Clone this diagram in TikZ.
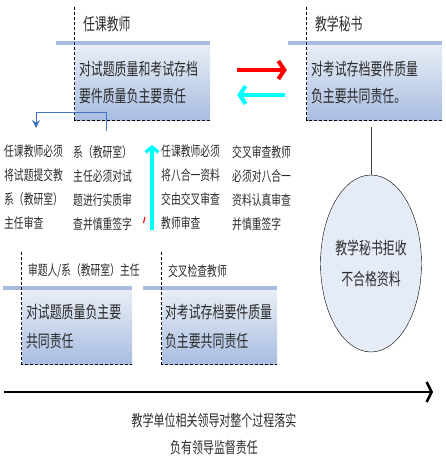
\documentclass[tikz,border=0pt]{standalone}
\usepackage{fontspec}
\setmainfont[FakeStretch=0.7]{Noto Sans CJK SC}
\usetikzlibrary{shapes.geometric,arrows.meta}
\definecolor{boxtop}{HTML}{E9EEF6}
\definecolor{boxbottom}{HTML}{A8BDE1}
\definecolor{bandblue}{HTML}{A9BCDF}
\definecolor{linkblue}{HTML}{4472C4}
\definecolor{ovalfill}{HTML}{E6ECF7}
\definecolor{inkgrey}{HTML}{2B2B2B}
\definecolor{brightcyan}{HTML}{00FFFF}
\definecolor{brightred}{HTML}{FF0000}

\begin{document}
\begin{tikzpicture}[x=1pt, y=-1pt,
		dutybox/.style={top color=boxtop, bottom color=boxbottom, inner xsep=4pt, inner ysep=0pt, align=left, text=inkgrey},
		header/.style={inner sep=0pt, anchor=west, text=inkgrey},
		note/.style={inner sep=0pt, anchor=north west, align=left, text=inkgrey, font=\fontsize{14}{24}\selectfont},
		edge/.style={dash pattern=on 3pt off 2pt, line width=0.8pt},
		band/.style={bandblue, line width=4pt},
		bothways/.style={line width=4pt, -{Straight Barb[length=6pt, width=18pt]}},
		climb/.style={brightcyan, line width=3.5pt, -{Straight Barb[length=5pt, width=13pt]}}]
		\useasboundingbox (0,0) rectangle (445,471);

		% the four duty boxes
		\draw (142.5,82.5) node[dutybox, text width=127pt, minimum height=75pt, font=\fontsize{17}{27}\selectfont] (TeacherBox) {对试题质量和考试存档\\要件质量负主要责任};
		\draw (374.5,82.5) node[dutybox, text width=127pt, minimum height=75pt, font=\fontsize{17}{27}\selectfont] (SecretaryBox) {对考试存档要件质量\\负主要共同责任。};
		\draw (77,327) node[dutybox, text width=102pt, minimum height=74pt, font=\fontsize{17}{29}\selectfont] (ReviewerBox) {对试题质量负主要\\共同责任};
		\draw (219.5,327) node[dutybox, inner xsep=3pt, text width=109pt, minimum height=74pt, font=\fontsize{17}{29}\selectfont] (CheckerBox) {对考试存档要件质量\\负主要共同责任};
		\foreach \b in {TeacherBox, SecretaryBox, ReviewerBox, CheckerBox} {
			\draw[band] ([xshift=-19pt, yshift=2pt]\b.north west) -- ([yshift=2pt]\b.north east);
			\draw[edge] ([yshift=37.5pt]\b.north west) -- (\b.south west) -- (\b.south east);
		}

		% headers
		\draw ([xshift=8pt, yshift=21pt]TeacherBox.north west) node[header, font=\fontsize{17}{20}\selectfont] (TeacherHead) {任课教师};
		\draw ([xshift=8pt, yshift=21pt]SecretaryBox.north west) node[header, font=\fontsize{17}{20}\selectfont] (SecretaryHead) {教学秘书};
		\draw ([xshift=6pt, yshift=19pt]ReviewerBox.north west) node[header, font=\fontsize{14}{16}\selectfont] (ReviewerHead) {审题人/系（教研室）主任};
		\draw ([xshift=6pt, yshift=19pt]CheckerBox.north west) node[header, font=\fontsize{14}{16}\selectfont] (CheckerHead) {交叉检查教师};

		% notes
		\draw (4,145) node[note] (SubmitNote) {任课教师必须\\将试题提交教\\系（教研室）\\主任审查};
		\draw (73,145) node[note] (SignNote) {系（教研室）\\主任必须对试\\题进行实质审\\查并慎重签字};
		\draw (161,145) node[note] (HandNote) {任课教师必须\\将八合一资料\\交由交叉审查\\教师审查};
		\draw (232,145) node[note] (CrossNote) {交叉审查教师\\必须对八合一\\资料认真审查\\并慎重签字};

		\draw (371,263.5) node[ellipse, draw, fill=ovalfill, minimum width=80pt, minimum height=177pt, inner sep=0pt, align=center, text=inkgrey, font=\fontsize{17}{31}\selectfont] (Reject) {教学秘书拒收\\不合格资料};

		% arrows
		\draw[bothways, brightred, shorten <=27pt, shorten >=20pt] ([yshift=12.5pt]TeacherBox.east) -- ([yshift=12.5pt]SecretaryBox.west);
		\draw[bothways, brightcyan, shorten <=22pt, shorten >=27pt] ([yshift=-12.5pt]SecretaryBox.west) -- ([yshift=-12.5pt]TeacherBox.east);
		\draw[linkblue, line width=1pt, -{Stealth[length=8pt, width=8pt]}] ([xshift=3.5pt, yshift=14pt]SignNote.north) -- ++(0,-19) -| ([xshift=2.5pt, yshift=17pt]SubmitNote.north);
		\draw[climb] ([xshift=-9pt]HandNote.south west) -- ([xshift=-9pt]HandNote.north west);
		\draw[brightred, line width=1.2pt] (143.5,223) -- (145,217);
		\draw[darkgray, line width=1pt, shorten <=7pt] (SecretaryBox.south -| Reject.north) -- (Reject.north);

		% time line
		\coordinate (TimeStart) at (4,392);
		\coordinate (TimeEnd) at (433,392);
		\draw[line width=2.5pt, -{Straight Barb[length=5pt, width=20pt]}] (TimeStart) -- (TimeEnd);
		\draw (214,433.5) node[align=center, inner sep=0pt, text=inkgrey, font=\fontsize{15.7}{27}\selectfont] (Oversight) {教学单位相关领导对整个过程落实\\负有领导监督责任};
	\end{tikzpicture}
\end{document}
